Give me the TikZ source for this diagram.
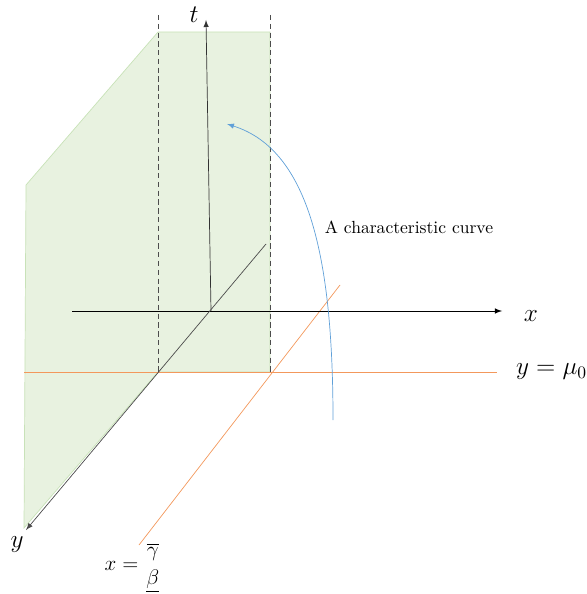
\documentclass[tikz,border=0pt]{standalone}
\usepackage{amsmath}
\usetikzlibrary{arrows}
\definecolor{green}{RGB}{232,242,224}
\definecolor{greenline}{RGB}{200,226,184}
\definecolor{orange}{RGB}{243,152,92}
\definecolor{blue}{RGB}{96,160,216}

\begin{document}
\begin{tikzpicture}[x=0.02cm, y=-0.02cm]

\useasboundingbox (0,0) rectangle (586,594);

%---------------------------------------
% Points
%---------------------------------------
\coordinate (O)   at (211,311);
\coordinate (xs)  at (72,311);
\coordinate (xe)  at (502,311);
\coordinate (te)  at (206,20);
\coordinate (yb)  at (266,244);
\coordinate (ye)  at (26,530);
\coordinate (mus) at (24,372);
\coordinate (mue) at (497,372);
\coordinate (gbs) at (340,285);
\coordinate (gbe) at (139,545);
\coordinate (cs)  at (333,420);
\coordinate (ce)  at (227,124);

%---------------------------------------
% Shaded region
%---------------------------------------
\fill[green, draw=greenline, thin]
      (26,185) -- (158,32) -- (270,32) -- (270,372) -- (158,372) -- (24,528) -- cycle;

% Dashed verticals
\foreach \xx in {158,270}{
  \draw[densely dashed, black!70] (\xx,15) -- (\xx,372);
}

%---------------------------------------
% Orange lines
%---------------------------------------
\draw[orange] (mus) -- (mue);
\node[anchor=west] (mulab) at (510,372) {\Large $y=\mu_0$};

\draw[orange] (gbs) -- (gbe);
\node (gblab) at (133,568) {\large $x=\genfrac{}{}{0pt}{0}{\overline{\gamma}}{\underline{\beta}}$};

%---------------------------------------
% Axes
%---------------------------------------
\draw[-latex] (xs) -- (xe);
\node (xlab) at (531,316) {\Large $x$};

\draw[-latex, black!80] (O) -- (te);
\node (tlab) at (194,15) {\Large $t$};

\draw[-latex, black!70] (yb) -- (ye);
\node (ylab) at (17,545) {\Large $y$};

%---------------------------------------
% Characteristic curve
%---------------------------------------
\draw[-latex, blue] (cs) .. controls (333,260) and (310,150) .. (ce);
\node (clab) at (409,227) {A characteristic curve};

\end{tikzpicture}
\end{document}
